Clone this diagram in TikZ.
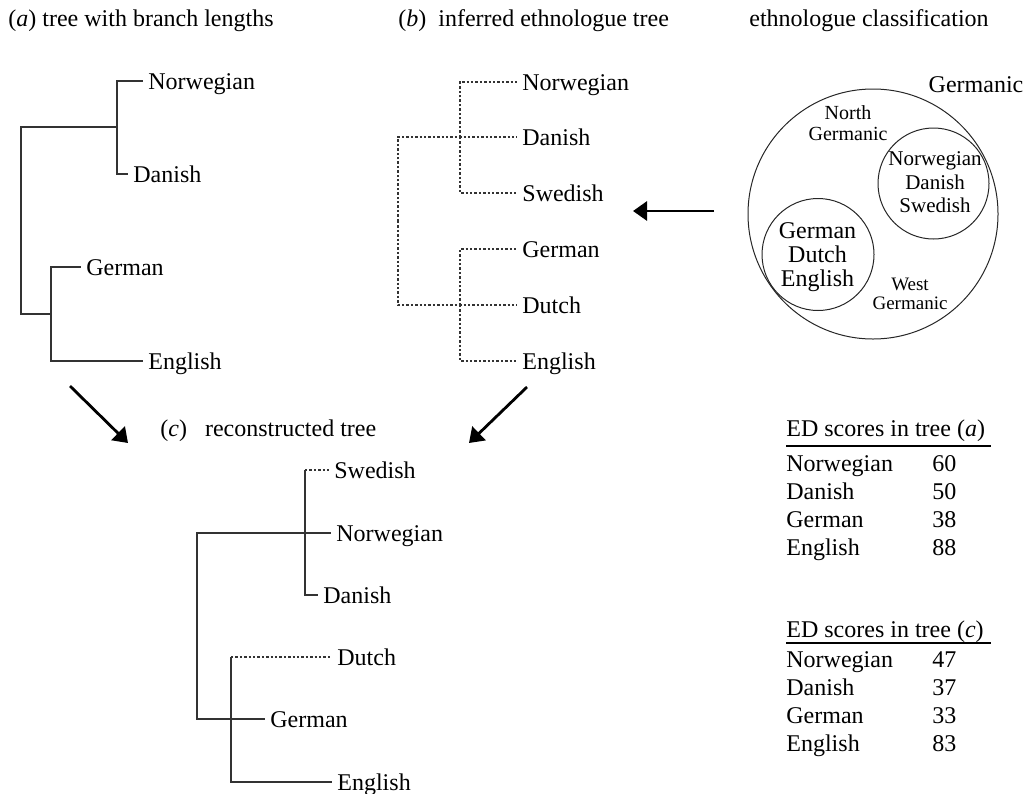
\documentclass[tikz,border=0pt]{standalone}
\usepackage{fontspec}
\setmainfont{Liberation Serif}
\usetikzlibrary{arrows.meta}

\tikzset{
  branch/.style={draw=black!80, line width=0.6pt},
  ethno/.style={draw=black!80, line width=0.6pt, dash pattern=on 1.2pt off 1pt},
  leaf/.style={anchor=west, inner xsep=2.5pt, inner ysep=0pt, text height=8pt,
    text depth=0pt, font=\fontsize{12}{14}\selectfont},
  caption/.style={anchor=base west, inner sep=0pt, font=\fontsize{12}{14}\selectfont},
  fatarrow/.style={line width=1.4pt, -{Triangle[length=7pt,width=9.5pt]}},
  ring/.style={draw=black!85, line width=0.5pt, circle, inner sep=0pt}
}

\begin{document}
\begin{tikzpicture}[x=0.5pt, y=-0.5pt]
    \useasboundingbox (0,0) rectangle (1032,793);

    % titles
    \node[caption] (tit-a) at (8,26) {(\textit{a}) tree with branch lengths};
    \node[caption] (tit-b) at (398,26) {(\textit{b})\ \ inferred ethnologue tree};
    \node[caption] (tit-e) at (749,26) {ethnologue classification};
    \node[caption] (tit-c) at (160,436) {(\textit{c})\enspace\ reconstructed tree};

    % tree (a)
    \coordinate (a-root) at (21,220);
    \coordinate (a-north) at (117,127);
    \coordinate (a-west) at (51,314);
    \node[leaf] (a-nor) at (143,81) {Norwegian};
    \node[leaf] (a-dan) at (128,174) {Danish};
    \node[leaf] (a-ger) at (81,267) {German};
    \node[leaf] (a-eng) at (143,361) {English};
    \draw[branch] (a-root) |- (a-north);
    \draw[branch] (a-root) |- (a-west);
    \draw[branch] (a-north) |- (a-nor);
    \draw[branch] (a-north) |- (a-dan);
    \draw[branch] (a-west) |- (a-ger);
    \draw[branch] (a-west) |- (a-eng);

    % tree (b)
    \coordinate (b-root) at (398,221);
    \coordinate (b-north) at (460,137);
    \coordinate (b-west) at (460,305);
    \node[leaf] (b-nor) at (517,82) {Norwegian};
    \node[leaf] (b-dan) at (517,137) {Danish};
    \node[leaf] (b-swe) at (517,193) {Swedish};
    \node[leaf] (b-ger) at (517,249) {German};
    \node[leaf] (b-dut) at (517,305) {Dutch};
    \node[leaf] (b-eng) at (517,361) {English};
    \draw[ethno] (b-root) |- (b-north) -- (b-dan);
    \draw[ethno] (b-root) |- (b-west) -- (b-dut);
    \draw[ethno] (b-north) |- (b-nor);
    \draw[ethno] (b-north) |- (b-swe);
    \draw[ethno] (b-west) |- (b-ger);
    \draw[ethno] (b-west) |- (b-eng);

    % tree (c)
    \coordinate (c-root) at (197,626);
    \coordinate (c-north) at (305,533);
    \coordinate (c-west) at (231,719);
    \node[leaf] (c-swe) at (329,470) {Swedish};
    \node[leaf] (c-nor) at (331,533) {Norwegian};
    \node[leaf] (c-dan) at (318,595) {Danish};
    \node[leaf] (c-dut) at (332,657) {Dutch};
    \node[leaf] (c-ger) at (265,719) {German};
    \node[leaf] (c-eng) at (332,782) {English};
    \draw[branch] (c-root) |- (c-north) -- (c-nor);
    \draw[branch] (c-root) |- (c-west) -- (c-ger);
    \draw[branch] (c-north) |- (c-dan);
    \draw[branch] (c-north) -- (c-north |- c-swe.west);
    \draw[ethno] (c-north |- c-swe.west) -- (c-swe);
    \draw[branch] (c-west) |- (c-eng);
    \draw[branch] (c-west) -- (c-west |- c-dut.west);
    \draw[ethno] (c-west |- c-dut.west) -- (c-dut);

    % arrows
    \coordinate (from-a) at (70,386);
    \coordinate (to-c1) at (128,443);
    \coordinate (from-b) at (527,387);
    \coordinate (to-c2) at (469,443);
    \coordinate (from-e) at (714,211);
    \coordinate (to-b) at (633,211);
    \draw[fatarrow] (from-a) -- (to-c1);
    \draw[fatarrow] (from-b) -- (to-c2);
    \draw[fatarrow] (from-e) -- (to-b);

    % classification
    \node[ring, minimum size=125pt] (germanic) at (873,214) {};
    \node[ring, minimum size=55.5pt] (north) at (933.5,183.5) {};
    \node[ring, minimum size=56pt] (west) at (818,254.5) {};
    \node[caption, anchor=base] (lab-g) at (976,92) {Germanic};
    % base of a multi-line node is its last line
    \node[anchor=base, align=center, inner sep=0pt, font=\fontsize{10}{10.5}\selectfont]
        (lab-n) at (848,140) {North\\Germanic};
    \node[anchor=base, align=center, inner sep=0pt, font=\fontsize{9.5}{9.5}\selectfont]
        (lab-w) at (910,309) {West\\Germanic};
    \node[anchor=base, align=center, inner sep=0pt, font=\fontsize{10.5}{11.75}\selectfont]
        (in-n) at (935,212.5) {Norwegian\\Danish\\Swedish};
    \node[anchor=base, align=center, inner sep=0pt, font=\fontsize{12}{12}\selectfont]
        (in-w) at (817.5,286.5) {German\\Dutch\\English};

    % scores
    \node[caption] (ed-a) at (786,436) {ED scores in tree (\textit{a})};
    \draw[line width=0.8pt] (786,446) -- (991,446);
    \foreach \lang/\sc [count=\i] in {Norwegian/60, Danish/50, German/38, English/88} {
        \node[caption] (ed-a-\i) at (786,443+28*\i) {\lang};
        \node[caption] (sc-a-\i) at (932,443+28*\i) {\sc};
    }
    \node[caption] (ed-c) at (786,637) {ED scores in tree (\textit{c})};
    \draw[line width=0.8pt] (786,643) -- (991,643);
    \foreach \lang/\sc [count=\i] in {Norwegian/47, Danish/37, German/33, English/83} {
        \node[caption] (ed-c-\i) at (786,639+28*\i) {\lang};
        \node[caption] (sc-c-\i) at (932,639+28*\i) {\sc};
    }
\end{tikzpicture}
\end{document}
